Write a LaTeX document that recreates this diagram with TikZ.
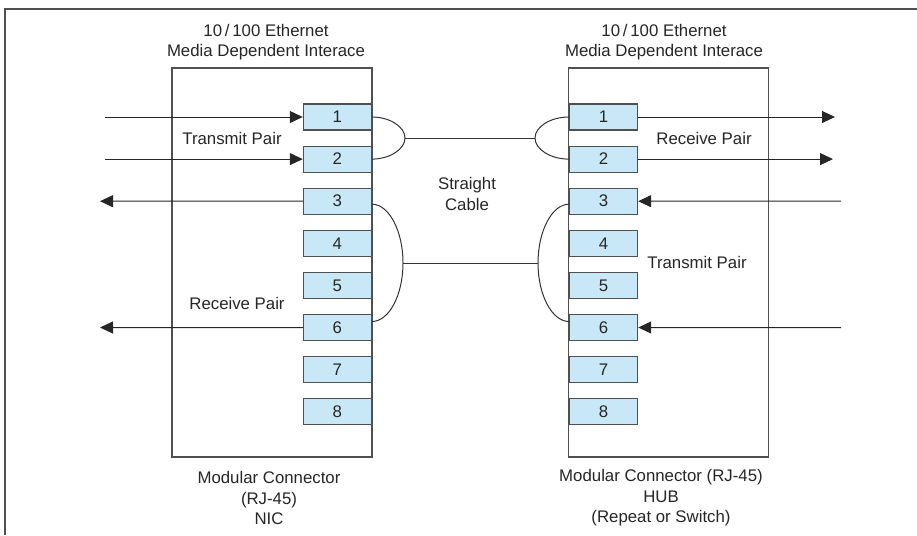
\documentclass[tikz,border=0pt]{standalone}
\usepackage{fontspec}
\setmainfont{Liberation Sans}
\usetikzlibrary{arrows.meta}
\definecolor{pinblue}{HTML}{C8E8F8}
\definecolor{edgegray}{HTML}{505050}
\tikzset{%
    pinbox/.style={draw=edgegray,fill=pinblue,line width=1.2pt,minimum width=68pt,minimum height=26pt,inner sep=0pt},
    jackbox/.style={draw=edgegray,line width=1.2pt,minimum width=200pt,minimum height=389pt,inner sep=0pt}
}

\begin{document}
\begin{tikzpicture}[
        x=1pt,y=-1pt,
        every node/.style={font=\fontsize{16.8}{20.5}\selectfont,text=black!85},
        wire/.style={line width=1pt,black!80},
        sig/.style={line width=1pt,black!85,-{Triangle[length=13pt,width=12pt]}}
        ]
        \useasboundingbox (0,0) rectangle (917,535);
        \draw[edgegray,line width=1.5pt] (5,535) -- (5,9) -- (917,9);

        \node[jackbox] (nic) at (272,262.5) {};
        \node[jackbox] (hub) at (668.5,262.5) {};

        \foreach \i in {1,...,8}{
            \node[pinbox,anchor=east] (l\i) at (372,{117+42.1*(\i-1)}) {\i};
            \node[pinbox,anchor=west] (r\i) at (569,{117+42.1*(\i-1)}) {\i};
        }

        % NIC side
        \coordinate (in1) at (105,117);
        \coordinate (in2) at (105,159.1);
        \coordinate (out3) at (100,201.2);
        \coordinate (out6) at (100,327.5);
        \draw[sig] (in1) -- (l1.west);
        \draw[sig] (in2) -- (l2.west);
        \draw[sig] (l3.west) -- (out3);
        \draw[sig] (l6.west) -- (out6);

        % HUB side
        \coordinate (hout1) at (835,117);
        \coordinate (hout2) at (833,159.1);
        \coordinate (hin3) at (841,201.2);
        \coordinate (hin6) at (841,327.5);
        \draw[sig] (r1.east) -- (hout1);
        \draw[sig] (r2.east) -- (hout2);
        \draw[sig] (hin3) -- (r3.east);
        \draw[sig] (hin6) -- (r6.east);

        % straight cable
        \coordinate (lta) at (405,138);
        \coordinate (rta) at (535,138);
        \coordinate (ltb) at (403,263);
        \coordinate (rtb) at (538,263);
        \draw[wire] (l1.east) .. controls +(18,0) and +(0,-11) .. (lta)
            .. controls +(0,11) and +(18,0) .. (l2.east);
        \draw[wire] (r1.west) .. controls +(-19,0) and +(0,-11) .. (rta)
            .. controls +(0,11) and +(-19,0) .. (r2.west);
        \draw[wire] ([yshift=-3pt]l3.east) .. controls +(17,0) and +(0,-32) .. (ltb)
            .. controls +(0,32) and +(17,0) .. ([yshift=6pt]l6.east);
        \draw[wire] ([yshift=-3pt]r3.west) .. controls +(-17,0) and +(0,-32) .. (rtb)
            .. controls +(0,32) and +(-17,0) .. ([yshift=6pt]r6.west);
        \draw[wire] (lta) -- (rta);
        \draw[wire] (ltb) -- (rtb);

        % labels
        \node[align=center] (nictop) at (266,42) {10\,/\,100 Ethernet\\Media Dependent Interace};
        \node[align=center] (hubtop) at (664,42) {10\,/\,100 Ethernet\\Media Dependent Interace};
        \node[align=center] (nicbot) at (269,498) {Modular Connector\\(RJ-45)\\NIC};
        \node[align=center] (hubbot) at (661,498) {Modular Connector (RJ-45)\\HUB\\(Repeat or Switch)};
        \node[align=center] (cable) at (467,194) {Straight\\Cable};
        \node (nictx) at (232,138) {Transmit Pair};
        \node (nicrx) at (237,303) {Receive Pair};
        \node (hubrx) at (704,138) {Receive Pair};
        \node (hubtx) at (697,262) {Transmit Pair};
    \end{tikzpicture}
\end{document}
